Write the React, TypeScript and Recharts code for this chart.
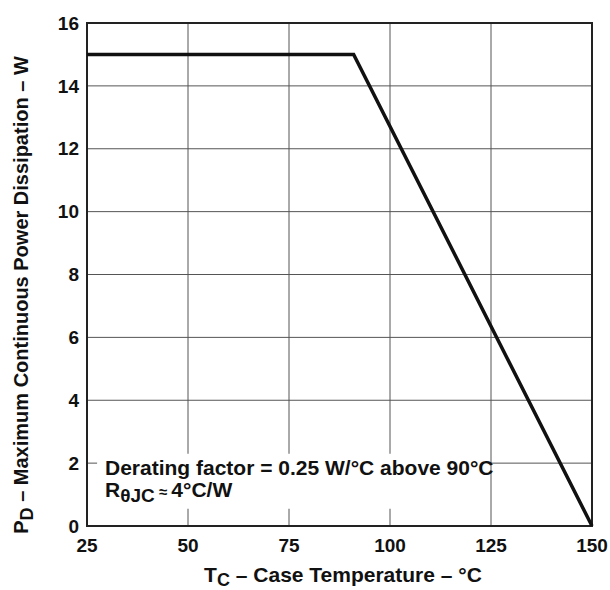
import React from "react";
import {
  LineChart,
  Line,
  XAxis,
  YAxis,
  CartesianGrid,
  ReferenceArea,
} from "recharts";

const caseTemps = [25, 91, 150];
const powerWatts = [15, 15, 0];
const xTicks = [25, 50, 75, 100, 125, 150];
const yTicks = [0, 2, 4, 6, 8, 10, 12, 14, 16];

const data = caseTemps.map((t, i) => ({ t, p: powerWatts[i] }));

const font = "'Liberation Sans', Arial, Helvetica, sans-serif";
const tickStyle = { fontSize: 19, fontWeight: 700, fill: "#111", fontFamily: font };

// note text sits on top of the white box, so it is drawn as the box's label
function NoteLabel() {
  return (
    <g fontFamily={font} fontWeight={700} fill="#111">
      <text x={105} y={475} fontSize={21}>
        Derating factor = 0.25 W/°C above 90°C
      </text>
      <text x={105} y={497} fontSize={21}>
        R
        <tspan fontSize={19} dy={5}>θJC</tspan>
        <tspan fontSize={15} dy={-5}> ≈ </tspan>
        <tspan fontSize={21}>4°C/W</tspan>
      </text>
    </g>
  );
}

export default function App() {
  return (
    <div style={{ width: 610, height: 590 }}>
      <style>{`body{margin:0}`}</style>
      <LineChart
        width={610}
        height={590}
        data={data}
        margin={{ top: 23, right: 18, bottom: 34, left: 0 }}
      >
        <CartesianGrid stroke="#555" strokeWidth={1} />
        <XAxis
          dataKey="t"
          type="number"
          domain={[25, 150]}
          ticks={xTicks}
          height={30}
          tickLine={false}
          axisLine={false}
          tickSize={0}
          tickMargin={13}
          tick={tickStyle}
          interval={0}
        />
        <YAxis
          type="number"
          domain={[0, 16]}
          ticks={yTicks}
          width={87}
          tickLine={false}
          axisLine={false}
          tickSize={0}
          tickMargin={8}
          tick={tickStyle}
          interval={0}
        />
        <ReferenceArea
          x1={27.5}
          x2={124.7}
          y1={0.55}
          y2={2.3}
          fill="#fff"
          fillOpacity={1}
          stroke="none"
          label={<NoteLabel />}
        />
        <ReferenceArea
          x1={25}
          x2={150}
          y1={0}
          y2={16}
          fill="none"
          stroke="#222"
          strokeWidth={2}
        />
        <Line
          dataKey="p"
          type="linear"
          stroke="#111"
          strokeWidth={3.5}
          dot={false}
          isAnimationActive={false}
        />
        <text
          x={343}
          y={582}
          textAnchor="middle"
          fontFamily={font}
          fontWeight={700}
          fontSize={21}
          fill="#111"
        >
          T
          <tspan fontSize={18} dy={4}>C</tspan>
          <tspan fontSize={21} dy={-4}> – Case Temperature – °C</tspan>
        </text>
        <text
          transform="translate(28, 295) rotate(-90)"
          x={0}
          y={0}
          textAnchor="middle"
          fontFamily={font}
          fontWeight={700}
          fontSize={20}
          fill="#111"
        >
          P
          <tspan fontSize={18} dy={5}>D</tspan>
          <tspan fontSize={20} dy={-5}> – Maximum Continuous Power Dissipation – W</tspan>
        </text>
      </LineChart>
    </div>
  );
}
